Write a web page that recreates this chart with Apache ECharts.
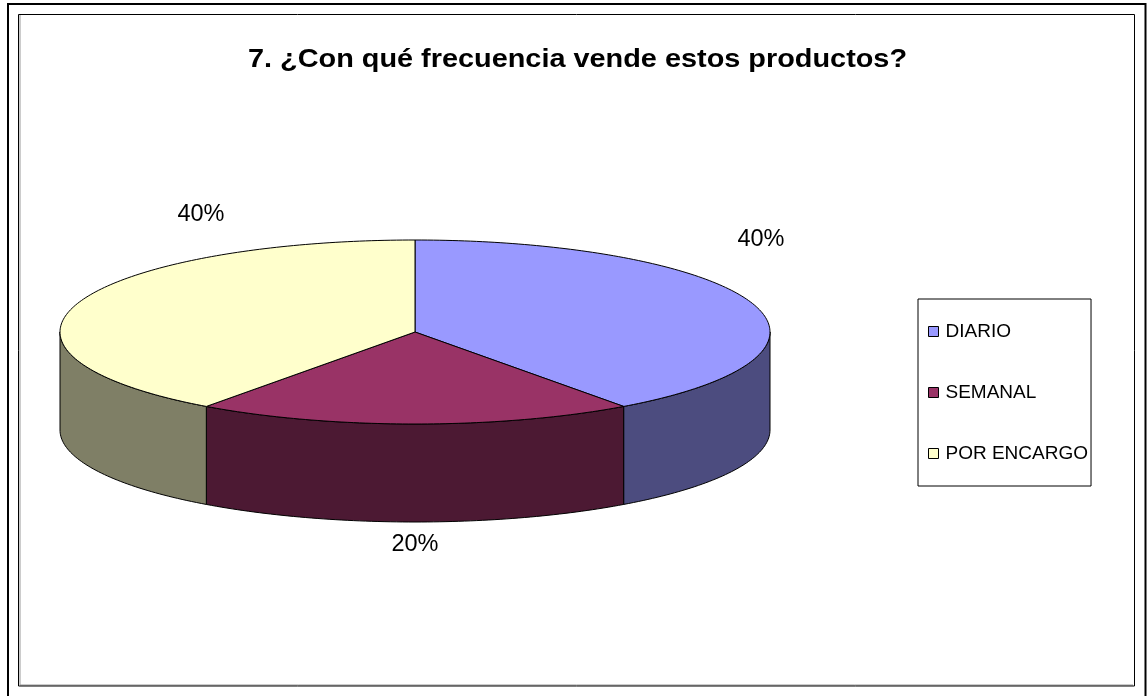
<!DOCTYPE html>
<html>
<head>
<meta charset="utf-8">
<style>html,body{margin:0;padding:0;background:#fff}#c{width:1147px;height:696px}</style>
<script src="https://cdn.jsdelivr.net/npm/echarts@6/dist/echarts.min.js"></script>
</head>
<body>
<div id="c"></div>
<script>
const titleText = '7. ¿Con qué frecuencia vende estos productos?';
const categories = ['DIARIO', 'SEMANAL', 'POR ENCARGO'];
const values = [40, 20, 40];
const topColors = ['#9999FF', '#993366', '#FFFFCC'];
const sideColors = ['#4C4C7F', '#4C1933', '#7F7F66'];
const labelCenters = [[761, 240], [415, 545], [201, 215]];
const disc = { cx: 415, cy: 332, rx: 355, ry: 92, depth: 98 };
const total = values.reduce((a, b) => a + b, 0);
const font = '"Liberation Sans", Arial, sans-serif';

function pt(deg, dy) {
  const r = deg * Math.PI / 180;
  return [disc.cx + disc.rx * Math.sin(r), disc.cy - disc.ry * Math.cos(r) + (dy || 0)];
}
function arc(a, b, dy) {
  const out = [], n = Math.max(2, Math.ceil(Math.abs(b - a)));
  for (let i = 0; i <= n; i++) out.push(pt(a + (b - a) * i / n, dy));
  return out;
}
const edge = { stroke: '#000', lineWidth: 1, lineJoin: 'round' };

function sliceRenderer(idx) {
  return function () {
    const before = values.slice(0, idx).reduce((a, b) => a + b, 0);
    const start = before / total * 360, end = (before + values[idx]) / total * 360;
    const children = [];
    const a = Math.max(start, 90), b = Math.min(end, 270);
    if (a < b) {
      children.push({
        type: 'polygon',
        shape: { points: arc(a, b, 0).concat(arc(b, a, disc.depth)) },
        style: Object.assign({ fill: sideColors[idx] }, edge)
      });
    }
    children.push({
      type: 'polygon',
      shape: { points: [[disc.cx, disc.cy]].concat(arc(start, end, 0)) },
      style: Object.assign({ fill: topColors[idx] }, edge)
    });
    children.push({
      type: 'text',
      style: {
        x: labelCenters[idx][0], y: labelCenters[idx][1],
        text: values[idx] + '%', fill: '#000',
        font: '23.5px ' + font, textAlign: 'center', textVerticalAlign: 'middle'
      }
    });
    return { type: 'group', children };
  };
}

const chart = echarts.init(document.getElementById('c'), null, { renderer: 'canvas' });
chart.setOption({
  animation: false,
  backgroundColor: '#fff',
  legend: {
    left: 918, top: 299, orient: 'vertical',
    data: categories, icon: 'rect', itemWidth: 10, itemHeight: 10, itemGap: 42,
    padding: [23, 3, 23, 10], itemStyle: { borderColor: '#000', borderWidth: 1 },
    borderColor: '#000', borderWidth: 1, backgroundColor: '#fff',
    selectedMode: false,
    textStyle: { fontFamily: font, fontSize: 19, color: '#000', padding: [0, 0, 0, 2] }
  },
  graphic: [
    { type: 'rect', silent: true, z: -1, shape: { x: 8, y: 4, width: 1137.5, height: 800 }, style: { fill: 'none', stroke: '#000', lineWidth: 2 } },
    { type: 'line', silent: true, z: -1, shape: { x1: 20, y1: 15, x2: 20, y2: 685 }, style: { stroke: '#999', lineWidth: 1 } },
    { type: 'line', silent: true, z: -1, shape: { x1: 20, y1: 685, x2: 1133, y2: 685 }, style: { stroke: '#999', lineWidth: 1 } },
    { type: 'rect', silent: true, z: -1, shape: { x: 18.5, y: 14.5, width: 1116, height: 671.5 }, style: { fill: 'none', stroke: '#000', lineWidth: 1 } },
    { type: 'text', silent: true, x: 577.5, y: 60, scaleX: 1.11, style: {
        text: titleText, fill: '#000', font: 'bold 26px ' + font, textAlign: 'center', textVerticalAlign: 'middle' } }
  ],
  series: categories.map((name, i) => ({
    type: 'custom', name, coordinateSystem: 'none',
    data: [values[i]], silent: true,
    itemStyle: { color: topColors[i] },
    renderItem: sliceRenderer(i)
  }))
});
</script>
</body>
</html>
